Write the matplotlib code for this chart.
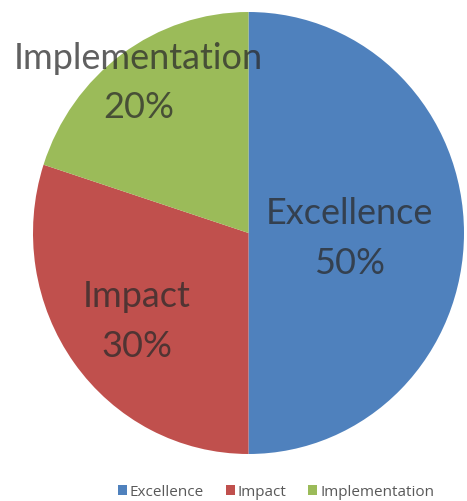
import matplotlib
matplotlib.use("Agg")
import matplotlib.pyplot as plt
import numpy as np

categories = ["Excellence", "Impact", "Implementation"]
values = [50, 30, 20]
colors = ["#4F81BD", "#C0504D", "#9BBB59"]
label_radius = [0.47, 0.64, 0.87]

W, H = 467, 502
fig = plt.figure(figsize=(W / 100, H / 100), dpi=100)
ax = fig.add_axes([33 / W, 1 - 455 / H, 431 / W, 442 / H])

wedges, texts, autotexts = ax.pie(
    values, colors=colors, startangle=90, counterclock=False,
    autopct=lambda p: "", wedgeprops=dict(linewidth=0),
)
ax.set_aspect("auto")
ax.set_xlim(-1, 1)
ax.set_ylim(-1, 1)

for w, at, name, v, r in zip(wedges, autotexts, categories, values, label_radius):
    mid = np.deg2rad((w.theta1 + w.theta2) / 2)
    at.set_position((r * np.cos(mid), r * np.sin(mid) - 0.02))
    at.set_text(f"{name}\n{v}%")
    at.set_fontsize(26)
    at.set_family("Lato")
    at.set_color("#2b2b2b")
    at.set_alpha(0.75)
    at.set_linespacing(1.6)
    at.set_ha("center")
    at.set_va("center")

leg = fig.legend(
    wedges, categories, loc="center", bbox_to_anchor=(276 / W, 1 - 493 / H),
    ncol=3, frameon=False, handlelength=0.6, handleheight=0.6,
    handletextpad=0.2, columnspacing=1.4,
    prop=dict(family="Open Sans", size=11),
)
for t in leg.get_texts():
    t.set_color("#595959")

fig.savefig("out.png", dpi=100)
